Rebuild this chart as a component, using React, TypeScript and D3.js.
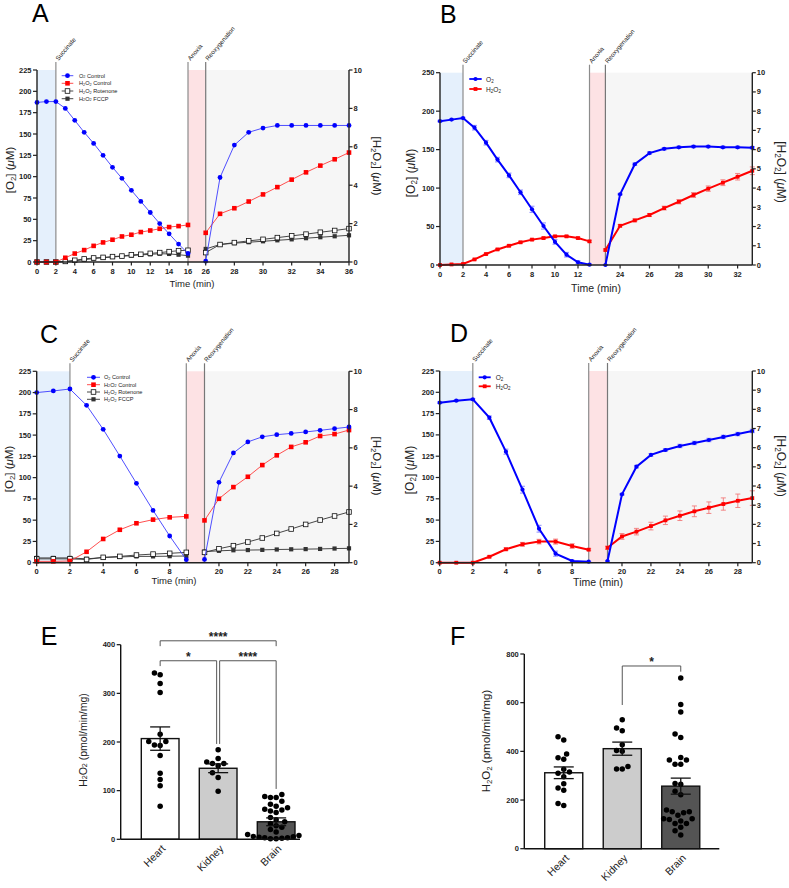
import React from "react";
import * as d3 from "d3";

const FONT = "'Liberation Sans', Arial, Helvetica, sans-serif";
const BLUE = "#0000ff";
const RED = "#ff0000";

// ---------- Panel A data ----------
const aTimePre = [0, 1, 2, 3, 4, 5, 6, 7, 8, 9, 10, 11, 12, 13, 14, 15, 16];
const aTimePost = [26, 27, 28, 29, 30, 31, 32, 33, 34, 35, 36];
const aO2Pre = [187, 188, 188, 180, 166, 152, 139, 125, 111, 98, 84, 71, 58, 45, 33, 21, 10];
const aO2Post = [1, 99, 137, 152, 157, 160, 160, 160, 160, 160, 160];
const aCtrlPre = [0, 0, 0, 0.22, 0.44, 0.62, 0.84, 1.02, 1.16, 1.33, 1.42, 1.56, 1.64, 1.73, 1.82, 1.87, 1.93];
const aCtrlPost = [1.52, 2.51, 2.8, 3.15, 3.52, 3.9, 4.29, 4.67, 5.02, 5.35, 5.7];
const aRotPre = [0, 0, 0, 0.03, 0.09, 0.16, 0.21, 0.24, 0.28, 0.31, 0.37, 0.4, 0.45, 0.49, 0.54, 0.59, 0.61];
const aRotPost = [0.49, 0.91, 1.01, 1.1, 1.18, 1.27, 1.36, 1.45, 1.55, 1.64, 1.74];
const aFccpPre = [0, 0, 0, 0.02, 0.06, 0.12, 0.18, 0.22, 0.26, 0.3, 0.33, 0.37, 0.4, 0.43, 0.42, 0.38, 0.33];
const aFccpPost = [0.68, 0.91, 0.98, 1.03, 1.08, 1.13, 1.18, 1.24, 1.29, 1.34, 1.39];

// ---------- Panel B data ----------
const bTimePre = [0, 1, 2, 3, 4, 5, 6, 7, 8, 9, 10, 11, 12, 13];
const bTimePost = [23, 24, 25, 26, 27, 28, 29, 30, 31, 32, 33];
const bO2Pre = [187, 189, 191, 178.5, 159, 137, 116.5, 94.5, 72.4, 50.7, 30, 13.4, 3.5, 0.4];
const bO2PreErr = [1, 1, 1, 3, 3, 3, 3, 3, 4, 4, 3, 3, 2, 1];
const bO2Post = [0, 92, 131, 145.5, 151, 153, 154, 154, 153, 153, 152.5];
const bO2PostErr = [0.5, 1, 1.5, 1.5, 1.5, 1.5, 1.5, 1.5, 1.5, 1.5, 1.5];
const bH2O2Pre = [0, 0.03, 0.05, 0.29, 0.57, 0.81, 1.0, 1.18, 1.32, 1.4, 1.49, 1.49, 1.4, 1.23];
const bH2O2PreErr = [0.02, 0.02, 0.02, 0.03, 0.04, 0.05, 0.05, 0.05, 0.05, 0.05, 0.05, 0.05, 0.05, 0.05];
const bH2O2Post = [0.78, 2.04, 2.32, 2.6, 2.96, 3.29, 3.64, 3.97, 4.28, 4.59, 4.9];
const bH2O2PostErr = [0.05, 0.06, 0.07, 0.08, 0.1, 0.11, 0.13, 0.14, 0.15, 0.17, 0.2];

// ---------- Panel C data ----------
const cTimePre = [0, 1, 2, 3, 4, 5, 6, 7, 8, 9];
const cTimePost = [19, 20, 21, 22, 23, 24, 25, 26, 27, 28, 29];
const cO2Pre = [200, 201.9, 204.2, 185, 156.8, 125.4, 93.3, 61.5, 31.4, 3.5];
const cO2Post = [3.9, 94.5, 129, 142, 148, 150.5, 152, 153.7, 155.6, 157.6, 159.5];
const cCtrlPre = [0.07, 0.07, 0.09, 0.57, 1.24, 1.72, 2.06, 2.25, 2.37, 2.42];
const cCtrlPost = [2.21, 3.34, 3.95, 4.49, 5.1, 5.61, 6.05, 6.29, 6.62, 6.72, 6.93];
const cRotPre = [0.2, 0.2, 0.2, 0.17, 0.28, 0.33, 0.4, 0.45, 0.49, 0.54];
const cRotPost = [0.54, 0.73, 0.89, 1.08, 1.29, 1.53, 1.76, 2.0, 2.23, 2.44, 2.65];
const cFccpPre = [0.25, 0.25, 0.25, 0.2, 0.27, 0.3, 0.33, 0.33, 0.34, 0.35];
const cFccpPost = [0.58, 0.62, 0.65, 0.66, 0.67, 0.69, 0.7, 0.71, 0.72, 0.74, 0.75];

// ---------- Panel D data ----------
const dTimePre = [0, 1, 2, 3, 4, 5, 6, 7, 8, 9];
const dTimePost = [19, 20, 21, 22, 23, 24, 25, 26, 27, 28, 29];
const dO2Pre = [187.8, 190.2, 191.7, 170.2, 130.3, 85.7, 39.9, 10.6, 2, 1.2];
const dO2PreErr = [1, 1, 1, 2, 3, 4, 4, 3, 1, 0.5];
const dO2Post = [2, 80.2, 112.7, 126.5, 132.3, 137, 140.5, 144, 147.6, 151, 154.6];
const dO2PostErr = [0.5, 1, 1.5, 1.5, 1.5, 2, 2, 2, 2, 2, 2];
const dH2O2Pre = [0, 0, 0, 0.31, 0.7, 0.96, 1.1, 1.1, 0.87, 0.68];
const dH2O2PreErr = [0.02, 0.02, 0.02, 0.05, 0.07, 0.1, 0.12, 0.13, 0.12, 0.05];
const dH2O2Post = [0.78, 1.37, 1.62, 1.91, 2.21, 2.45, 2.68, 2.87, 3.06, 3.23, 3.37];
const dH2O2PostErr = [0.08, 0.15, 0.17, 0.2, 0.22, 0.25, 0.28, 0.3, 0.32, 0.35, 0.38];

// ---------- Tick labels ----------
const ticks225 = [0, 25, 50, 75, 100, 125, 150, 175, 200, 225];
const ticks250 = [0, 50, 100, 150, 200, 250];
const ticksR2 = [0, 2, 4, 6, 8, 10];
const ticksR1 = [0, 1, 2, 3, 4, 5, 6, 7, 8, 9, 10];

// ---------- Panel E / F data ----------
const tissues = ["Heart", "Kidney", "Brain"];
const eHeart = [342, 338, 320, 302, 216, 201, 201, 194, 193, 172, 136, 123, 110, 68];
const eKidney = [184, 166, 159, 156, 156, 151, 137, 127, 99];
const eBrain = [92, 88, 86, 86, 78, 72, 68, 65, 62, 60, 58, 55, 45, 40, 36, 32, 28, 25, 20, 15, 10, 8, 6, 5, 4, 3, 3, 2, 1, 1];
const eMeans = [207, 146, 36];
const eSems = [24, 9, 8];
const eTicks = [0, 100, 200, 300, 400];

const fHeart = [460, 447, 389, 374, 368, 326, 315, 310, 296, 267, 249, 240, 186, 177];
const fKidney = [530, 496, 485, 427, 403, 400, 338, 327, 327];
const fBrain = [701, 592, 562, 471, 457, 375, 364, 364, 347, 347, 268, 265, 236, 222, 159, 152, 152, 148, 137, 123, 123, 120, 114, 104, 104, 88, 74, 56];
const fMeans = [312, 411, 257];
const fSems = [24, 27, 33];
const fTicks = [0, 200, 400, 600, 800];

// ---------- helpers ----------
function rich(s: string, fs: number) {
  const parts = s.split(/(_[0-9]|μ)/).filter((x) => x !== "");
  const out: React.ReactNode[] = [];
  let shifted = false;
  parts.forEach((pt, i) => {
    if (pt.startsWith("_")) {
      out.push(
        <tspan key={i} fontSize={fs * 0.68} dy={fs * 0.28}>
          {pt.slice(1)}
        </tspan>
      );
      shifted = true;
    } else {
      out.push(
        <tspan key={i} dy={shifted ? -fs * 0.28 : 0} fontStyle={pt === "μ" ? "italic" : undefined}>
          {pt}
        </tspan>
      );
      shifted = false;
    }
  });
  return out;
}

type Marker = "circle" | "square" | "open" | "dark";
interface Series {
  label: string;
  axis: "left" | "right";
  color: string;
  lineColor: string;
  marker: Marker;
  pre: number[];
  post: number[];
  preErr?: number[];
  postErr?: number[];
  errColor?: string;
}
interface Panel {
  letter: string;
  letterPos: [number, number];
  x0: number;
  xb1: number;
  xb2: number;
  x1: number;
  d1: [number, number];
  d2: [number, number];
  yTop: number;
  yBot: number;
  leftMax: number;
  leftTicks: number[];
  rightMax: number;
  rightTicks: number[];
  xTicks1: number[];
  xTicks2: number[];
  succinate: number;
  timePre: number[];
  timePost: number[];
  series: Series[];
  thick: boolean;
  legend: { x0: number; x1: number; tx: number; ys: number[]; fs: number };
  timeLabel: [number, number, number];
  leftTitle: [number, number, number];
  rightTitle: [number, number, number];
}

function MarkerShape({ m, x, y, color, thick }: { m: Marker; x: number; y: number; color: string; thick: boolean }) {
  if (m === "circle") return <circle cx={x} cy={y} r={thick ? 2.1 : 2.4} fill={color} />;
  const s = m === "square" ? (thick ? 3.8 : 4.6) : m === "open" ? 4.6 : 4.2;
  if (m === "open")
    return <rect x={x - s / 2} y={y - s / 2} width={s} height={s} fill="#fff" stroke="#111" strokeWidth={0.8} />;
  return <rect x={x - s / 2} y={y - s / 2} width={s} height={s} fill={m === "dark" ? "#333" : color} />;
}

function TimePanel({ p }: { p: Panel }) {
  const s1 = d3.scaleLinear().domain(p.d1).range([p.x0, p.xb1]);
  const s2 = d3.scaleLinear().domain(p.d2).range([p.xb2, p.x1]);
  const yL = d3.scaleLinear().domain([0, p.leftMax]).range([p.yBot, p.yTop]);
  const yR = d3.scaleLinear().domain([0, p.rightMax]).range([p.yBot, p.yTop]);
  const line = d3.line<[number, number]>().x((d) => d[0]).y((d) => d[1]);
  const tickFs = 7.5;
  const lw = p.thick ? 2 : 0.9;
  const evColor = "#8c8c8c";
  const evTop = p.yTop - 8;
  const events: [number, string][] = [
    [s1(p.succinate), "Succinate"],
    [p.xb1, "Anoxia"],
    [p.xb2, "Reoxygenation"],
  ];
  const drawSeries = [...p.series].reverse();
  return (
    <g>
      <rect x={p.x0} y={p.yTop} width={s1(p.succinate) - p.x0} height={p.yBot - p.yTop} fill="#e5f0fc" />
      <rect x={p.xb1} y={p.yTop} width={p.xb2 - p.xb1} height={p.yBot - p.yTop} fill="#fde2e4" />
      <rect x={p.xb2} y={p.yTop} width={p.x1 - p.xb2} height={p.yBot - p.yTop} fill="#f6f6f6" />
      {events.map(([x, t]) => (
        <g key={t}>
          <line x1={x} x2={x} y1={evTop} y2={p.yBot} stroke={t === "Reoxygenation" ? "#777" : evColor} strokeWidth={1.2} />
          <text transform={`translate(${x + 2.5},${evTop - 1}) rotate(-50)`} fontSize={6.3} fill="#222">
            {t}
          </text>
        </g>
      ))}
      {drawSeries.map((s) => {
        const y = s.axis === "left" ? yL : yR;
        const prePts: [number, number][] = p.timePre.map((t, i) => [s1(t), y(s.pre[i])]);
        const postPts: [number, number][] = p.timePost.map((t, i) => [s2(t), y(s.post[i])]);
        const errs: { x: number; v: number; e: number }[] = [];
        if (s.preErr) p.timePre.forEach((t, i) => errs.push({ x: s1(t), v: s.pre[i], e: s.preErr![i] }));
        if (s.postErr) p.timePost.forEach((t, i) => errs.push({ x: s2(t), v: s.post[i], e: s.postErr![i] }));
        return (
          <g key={s.label}>
            {errs.map((e, i) => (
              <g key={i} stroke={s.errColor} strokeWidth={0.9}>
                <line x1={e.x} x2={e.x} y1={y(e.v - e.e)} y2={y(e.v + e.e)} />
                <line x1={e.x - 2.5} x2={e.x + 2.5} y1={y(e.v - e.e)} y2={y(e.v - e.e)} />
                <line x1={e.x - 2.5} x2={e.x + 2.5} y1={y(e.v + e.e)} y2={y(e.v + e.e)} />
              </g>
            ))}
            <path d={line(prePts) || ""} fill="none" stroke={s.lineColor} strokeWidth={lw} />
            <path d={line(postPts) || ""} fill="none" stroke={s.lineColor} strokeWidth={lw} />
            {[...prePts, ...postPts].map((pt, i) => (
              <MarkerShape key={i} m={s.marker} x={pt[0]} y={pt[1]} color={s.color} thick={p.thick} />
            ))}
          </g>
        );
      })}
      <g stroke="#222" strokeWidth={1.4} fill="none">
        <line x1={p.x0} x2={p.x0} y1={p.yTop} y2={p.yBot} />
        <line x1={p.x1} x2={p.x1} y1={p.yTop} y2={p.yBot} />
        <line x1={p.x0} x2={p.x1} y1={p.yBot} y2={p.yBot} />
      </g>
      {p.leftTicks.map((t) => (
        <g key={"l" + t}>
          <line x1={p.x0 - 4} x2={p.x0} y1={yL(t)} y2={yL(t)} stroke="#222" strokeWidth={1.2} />
          <text x={p.x0 - 5.5} y={yL(t)} textAnchor="end" dominantBaseline="central" fontSize={tickFs} fontWeight="bold" fill="#222">
            {t}
          </text>
        </g>
      ))}
      {p.rightTicks.map((t) => (
        <g key={"r" + t}>
          <line x1={p.x1} x2={p.x1 + 3.5} y1={yR(t)} y2={yR(t)} stroke="#222" strokeWidth={1.2} />
          <text x={p.x1 + 4.5} y={yR(t)} textAnchor="start" dominantBaseline="central" fontSize={tickFs} fontWeight="bold" fill="#222">
            {t}
          </text>
        </g>
      ))}
      {[...p.xTicks1.map((t) => s1(t)), ...p.xTicks2.map((t) => s2(t))].map((x, i) => {
        const lab = i < p.xTicks1.length ? p.xTicks1[i] : p.xTicks2[i - p.xTicks1.length];
        return (
          <g key={"x" + i}>
            <line x1={x} x2={x} y1={p.yBot} y2={p.yBot + 3.5} stroke="#222" strokeWidth={1.2} />
            <text x={x} y={p.yBot + 11.5} textAnchor="middle" fontSize={tickFs} fontWeight="bold" fill="#222">
              {lab}
            </text>
          </g>
        );
      })}
      <text x={p.timeLabel[0]} y={p.timeLabel[1]} textAnchor="middle" fontSize={p.timeLabel[2]} fill="#222">
        Time (min)
      </text>
      <text
        transform={`translate(${p.leftTitle[0]},${p.leftTitle[1]}) rotate(-90)`}
        textAnchor="middle"
        dominantBaseline="central"
        fontSize={p.leftTitle[2]}
        fill="#222"
      >
        {rich("[O_2] (μM)", p.leftTitle[2])}
      </text>
      <text
        transform={`translate(${p.rightTitle[0]},${p.rightTitle[1]}) rotate(90)`}
        textAnchor="middle"
        dominantBaseline="central"
        fontSize={p.rightTitle[2]}
        fill="#222"
      >
        {rich("[H_2O_2] (μM)", p.rightTitle[2])}
      </text>
      {p.series.map((s, i) => {
        const y = p.legend.ys[i];
        const xm = (p.legend.x0 + p.legend.x1) / 2;
        return (
          <g key={"lg" + i}>
            <line x1={p.legend.x0} x2={p.legend.x1} y1={y} y2={y} stroke={s.lineColor} strokeWidth={p.thick ? 1.8 : 0.9} />
            <MarkerShape m={s.marker} x={xm} y={y} color={s.color} thick={p.thick} />
            <text x={p.legend.tx} y={y} dominantBaseline="central" fontSize={p.legend.fs} fill="#222">
              {rich(s.label, p.legend.fs)}
            </text>
          </g>
        );
      })}
      <text x={p.letterPos[0]} y={p.letterPos[1]} fontSize={25} fill="#000">
        {p.letter}
      </text>
    </g>
  );
}

function thinSeries(o2Pre: number[], o2Post: number[], cPre: number[], cPost: number[], rPre: number[], rPost: number[], fPre: number[], fPost: number[]): Series[] {
  return [
    { label: "O_2 Control", axis: "left", color: BLUE, lineColor: "#3b3bff", marker: "circle", pre: o2Pre, post: o2Post },
    { label: "H_2O_2 Control", axis: "right", color: RED, lineColor: "#ff3b3b", marker: "square", pre: cPre, post: cPost },
    { label: "H_2O_2 Rotenone", axis: "right", color: "#fff", lineColor: "#333", marker: "open", pre: rPre, post: rPost },
    { label: "H_2O_2 FCCP", axis: "right", color: "#333", lineColor: "#333", marker: "dark", pre: fPre, post: fPost },
  ];
}

function thickSeries(o2Pre: number[], o2PreE: number[], o2Post: number[], o2PostE: number[], hPre: number[], hPreE: number[], hPost: number[], hPostE: number[]): Series[] {
  return [
    { label: "O_2", axis: "left", color: BLUE, lineColor: BLUE, marker: "circle", pre: o2Pre, post: o2Post, preErr: o2PreE, postErr: o2PostE, errColor: "#8080ff" },
    { label: "H_2O_2", axis: "right", color: RED, lineColor: RED, marker: "square", pre: hPre, post: hPost, preErr: hPreE, postErr: hPostE, errColor: "#f27a7a" },
  ];
}

const panels: Panel[] = [
  {
    letter: "A", letterPos: [32, 22],
    x0: 37, xb1: 188, xb2: 205.7, x1: 349, d1: [0, 16], d2: [26, 36],
    yTop: 70, yBot: 262, leftMax: 225, leftTicks: ticks225, rightMax: 10, rightTicks: ticksR2,
    xTicks1: [0, 2, 4, 6, 8, 10, 12, 14, 16], xTicks2: [26, 28, 30, 32, 34, 36],
    succinate: 2, timePre: aTimePre, timePost: aTimePost,
    series: thinSeries(aO2Pre, aO2Post, aCtrlPre, aCtrlPost, aRotPre, aRotPost, aFccpPre, aFccpPost),
    thick: false,
    legend: { x0: 61.7, x1: 73.3, tx: 79, ys: [75.7, 83.3, 91, 98.7], fs: 5.6 },
    timeLabel: [192, 287, 9.5], leftTitle: [10, 170, 11.5], rightTitle: [377, 166, 11.5],
  },
  {
    letter: "B", letterPos: [440, 23],
    x0: 440, xb1: 589.5, xb2: 605.4, x1: 752.3, d1: [0, 13], d2: [23, 33],
    yTop: 72.7, yBot: 265, leftMax: 250, leftTicks: ticks250, rightMax: 10, rightTicks: ticksR1,
    xTicks1: [0, 2, 4, 6, 8, 10, 12], xTicks2: [24, 26, 28, 30, 32],
    succinate: 2, timePre: bTimePre, timePost: bTimePost,
    series: thickSeries(bO2Pre, bO2PreErr, bO2Post, bO2PostErr, bH2O2Pre, bH2O2PreErr, bH2O2Post, bH2O2PostErr),
    thick: true,
    legend: { x0: 469.3, x1: 481.7, tx: 486, ys: [79, 89], fs: 6.6 },
    timeLabel: [596, 292, 10.5], leftTitle: [410.5, 173, 12], rightTitle: [781, 172, 12],
  },
  {
    letter: "C", letterPos: [40, 343],
    x0: 36.7, xb1: 186.3, xb2: 204.5, x1: 349, d1: [0, 9], d2: [19, 29],
    yTop: 371.3, yBot: 562.7, leftMax: 225, leftTicks: ticks225, rightMax: 10, rightTicks: ticksR2,
    xTicks1: [0, 2, 4, 6, 8], xTicks2: [20, 22, 24, 26, 28],
    succinate: 2, timePre: cTimePre, timePost: cTimePost,
    series: thinSeries(cO2Pre, cO2Post, cCtrlPre, cCtrlPost, cRotPre, cRotPost, cFccpPre, cFccpPost),
    thick: false,
    legend: { x0: 87, x1: 100, tx: 104, ys: [377.3, 384.7, 392, 399.3], fs: 5.6 },
    timeLabel: [174, 584, 9.5], leftTitle: [9, 469, 11.5], rightTitle: [377, 466, 11.5],
  },
  {
    letter: "D", letterPos: [450, 342],
    x0: 439.7, xb1: 588.7, xb2: 607.5, x1: 752.3, d1: [0, 9], d2: [19, 29],
    yTop: 371, yBot: 562.7, leftMax: 225, leftTicks: ticks225, rightMax: 10, rightTicks: ticksR1,
    xTicks1: [0, 2, 4, 6, 8], xTicks2: [20, 22, 24, 26, 28],
    succinate: 2, timePre: dTimePre, timePost: dTimePost,
    series: thickSeries(dO2Pre, dO2PreErr, dO2Post, dO2PostErr, dH2O2Pre, dH2O2PreErr, dH2O2Post, dH2O2PostErr),
    thick: true,
    legend: { x0: 478.7, x1: 490.7, tx: 495.7, ys: [377.3, 386.3], fs: 6.6 },
    timeLabel: [598, 586, 10.5], leftTitle: [410, 470, 12], rightTitle: [781, 466, 12],
  },
];

interface Bracket { from: string; to: string; fromDx: number; toDx: number; level: number; endFrom: number; endTo: number; label: string }
interface BarPanel {
  letter: string;
  letterPos: [number, number];
  axisX: number;
  axisEnd: number;
  yTop: number;
  yBot: number;
  yMax: number;
  yTicks: number[];
  band: [number, number];
  values: number[][];
  means: number[];
  sems: number[];
  brackets: Bracket[];
  title: [number, number, number];
}

const fills = ["#ffffff", "#cccccc", "#545454"];

function swarm(vals: number[], y: (v: number) => number, r: number): number[] {
  const idx = vals.map((_, i) => i).sort((a, b) => vals[a] - vals[b]);
  const placed: { x: number; y: number }[] = [];
  const offs = new Array(vals.length).fill(0);
  const d = 2 * r + 0.2;
  for (const i of idx) {
    const yy = y(vals[i]);
    let best = 0;
    for (let k = 0; k < 60; k++) {
      const cand = k === 0 ? 0 : (k % 2 === 1 ? -1 : 1) * Math.ceil(k / 2) * (d / 2);
      if (placed.every((p) => Math.hypot(p.x - cand, p.y - yy) >= d)) {
        best = cand;
        break;
      }
    }
    offs[i] = best;
    placed.push({ x: best, y: yy });
  }
  return offs;
}

function BarChart({ b }: { b: BarPanel }) {
  const x = d3.scaleBand<string>().domain(tissues).range(b.band).paddingInner(0.35).paddingOuter(0.175);
  const y = d3.scaleLinear().domain([0, b.yMax]).range([b.yBot, b.yTop]);
  const bw = x.bandwidth();
  const cx = (c: string) => (x(c) as number) + bw / 2;
  const r = 2.75;
  return (
    <g>
      {tissues.map((c, i) => {
        const offs = swarm(b.values[i], y, r);
        const m = b.means[i];
        const s = b.sems[i];
        const xc = cx(c);
        return (
          <g key={c}>
            <rect x={x(c)} y={y(m)} width={bw} height={b.yBot - y(m)} fill={fills[i]} stroke="#111" strokeWidth={1.4} />
            {b.values[i].map((v, j) => (
              <circle key={j} cx={xc + offs[j]} cy={y(v)} r={r} fill="#000" />
            ))}
            <g stroke="#111" strokeWidth={1.3}>
              <line x1={xc} x2={xc} y1={y(m - s)} y2={y(m + s)} />
              <line x1={xc - 10} x2={xc + 10} y1={y(m - s)} y2={y(m - s)} />
              <line x1={xc - 10} x2={xc + 10} y1={y(m + s)} y2={y(m + s)} />
            </g>
            <text transform={`translate(${xc + 6},${b.yBot + 10}) rotate(-45)`} textAnchor="end" fontSize={10.5} fill="#222">
              {c}
            </text>
          </g>
        );
      })}
      <line x1={b.axisX} x2={b.axisX} y1={b.yTop} y2={b.yBot} stroke="#111" strokeWidth={1.4} />
      <line x1={b.axisX} x2={b.axisEnd} y1={b.yBot} y2={b.yBot} stroke="#111" strokeWidth={1.4} />
      {b.yTicks.map((t) => (
        <g key={t}>
          <line x1={b.axisX - 4} x2={b.axisX} y1={y(t)} y2={y(t)} stroke="#111" strokeWidth={1.2} />
          <text x={b.axisX - 5.5} y={y(t)} textAnchor="end" dominantBaseline="central" fontSize={7.5} fontWeight="bold" fill="#222">
            {t}
          </text>
        </g>
      ))}
      {b.brackets.map((br, i) => {
        const x1 = cx(br.from) + br.fromDx;
        const x2 = cx(br.to) + br.toDx;
        const yl = y(br.level);
        return (
          <g key={i}>
            <path d={`M${x1},${y(br.endFrom)}V${yl}H${x2}V${y(br.endTo)}`} fill="none" stroke="#555" strokeWidth={1} />
            <text x={(x1 + x2) / 2} y={yl + 0.5} textAnchor="middle" fontSize={12} fontWeight="bold" fill="#222">
              {br.label}
            </text>
          </g>
        );
      })}
      <text
        transform={`translate(${b.title[0]},${b.title[1]}) rotate(-90)`}
        textAnchor="middle"
        dominantBaseline="central"
        fontSize={b.title[2]}
        fill="#222"
      >
        {rich("H_2O_2 (pmol/min/mg)", b.title[2])}
      </text>
      <text x={b.letterPos[0]} y={b.letterPos[1]} fontSize={25} fill="#000">
        {b.letter}
      </text>
    </g>
  );
}

const barPanels: BarPanel[] = [
  {
    letter: "E", letterPos: [40.7, 645],
    axisX: 120.7, axisEnd: 300, yTop: 644.7, yBot: 839.3, yMax: 400, yTicks: eTicks,
    band: [131.15, 305.15],
    values: [eHeart, eKidney, eBrain], means: eMeans, sems: eSems,
    brackets: [
      { from: "Heart", to: "Brain", fromDx: 0, toDx: 0, level: 408, endFrom: 397, endTo: 397, label: "****" },
      { from: "Heart", to: "Kidney", fromDx: 0, toDx: -1.5, level: 367, endFrom: 356, endTo: 196, label: "*" },
      { from: "Kidney", to: "Brain", fromDx: 1.5, toDx: 0, level: 367, endFrom: 196, endTo: 103.5, label: "****" },
    ],
    title: [82.5, 740, 10.5],
  },
  {
    letter: "F", letterPos: [450, 645],
    axisX: 524.3, axisEnd: 719.3, yTop: 654, yBot: 848.7, yMax: 800, yTicks: fTicks,
    band: [534.5, 710],
    values: [fHeart, fKidney, fBrain], means: fMeans, sems: fSems,
    brackets: [{ from: "Kidney", to: "Brain", fromDx: 0, toDx: 0, level: 750.7, endFrom: 590.5, endTo: 727.3, label: "*" }],
    title: [486, 741, 11.5],
  },
];

export default function App() {
  return (
    <div style={{ position: "absolute", left: 0, top: 0, width: 789, height: 888, background: "#fff" }}>
      <svg width={789} height={888} style={{ display: "block" }} fontFamily={FONT}>
        <rect width={789} height={888} fill="#fff" />
        {panels.map((p) => (
          <TimePanel key={p.letter} p={p} />
        ))}
        {barPanels.map((b) => (
          <BarChart key={b.letter} b={b} />
        ))}
      </svg>
    </div>
  );
}
